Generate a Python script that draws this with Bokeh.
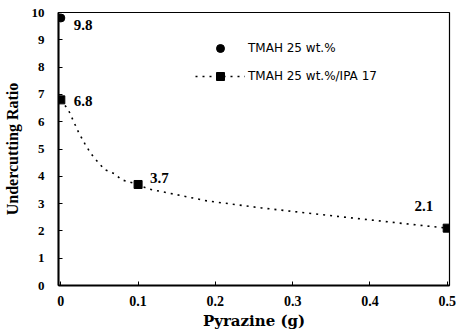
from bokeh.plotting import figure
from bokeh.models import Range1d, Legend, LegendItem, FixedTicker
from bokeh.core.properties import value
from bokeh.embed import file_html
from bokeh.resources import INLINE

# data
tmah_x = [0.0]
tmah_y = [9.8]
tmah_labels = ["9.8"]
ipa_x = [0.0, 0.1, 0.5]
ipa_y = [6.8, 3.7, 2.1]
ipa_labels = ["6.8", "3.7", "2.1"]
curve_x = [0.0, 0.010, 0.017, 0.023, 0.031, 0.038, 0.044, 0.057, 0.069, 0.079, 0.1,
           0.113, 0.189, 0.26, 0.365, 0.45, 0.5]
curve_y = [6.8, 6.42, 5.98, 5.61, 5.2, 4.87, 4.65, 4.24, 4.1, 3.87, 3.7,
           3.54, 3.1, 2.84, 2.51, 2.25, 2.1]
x_ticks = [0, 0.1, 0.2, 0.3, 0.4, 0.5]
x_tick_labels = {0: "0", 0.1: "0.1", 0.2: "0.2", 0.3: "0.3", 0.4: "0.4", 0.5: "0.5"}
y_ticks = list(range(0, 11))

SERIF = "Liberation Serif"

p = figure(width=456, height=332, output_backend="svg", toolbar_location=None,
           x_range=Range1d(-0.003, 0.503), y_range=Range1d(0, 10),
           min_border_left=52, min_border_right=7, min_border_top=12, min_border_bottom=46)
p.grid.visible = False
p.outline_line_color = "black"
p.outline_line_width = 1.2
p.background_fill_color = "white"
p.border_fill_color = "white"

for ax in (p.xaxis, p.yaxis):
    ax.axis_line_width = 2
    ax.axis_line_color = "black"
    ax.major_tick_in = 4
    ax.major_tick_out = 0
    ax.minor_tick_in = 0
    ax.minor_tick_out = 0
    ax.major_tick_line_color = "black"
    ax.major_label_text_font = SERIF
    ax.major_label_text_font_style = "bold"
    ax.major_label_text_color = "black"
    ax.axis_label_text_font = SERIF
    ax.axis_label_text_font_style = "bold"
    ax.axis_label_text_color = "black"

p.xaxis.ticker = FixedTicker(ticks=x_ticks)
p.xaxis.major_label_overrides = x_tick_labels
p.xaxis.major_label_text_font_size = "14px"
p.xaxis.major_label_standoff = 10
p.xaxis.axis_label = "Pyrazine (g)"
p.xaxis.axis_label_text_font = "DejaVu Serif"
p.xaxis.axis_label_text_font_size = "15px"
p.xaxis.axis_label_standoff = 3

p.yaxis.ticker = FixedTicker(ticks=y_ticks)
p.yaxis.major_label_text_font_size = "13px"
p.yaxis.major_label_standoff = 14
p.yaxis.axis_label = "Undercutting Ratio"
p.yaxis.axis_label_text_font_size = "16px"
p.yaxis.axis_label_standoff = 8

line_r = p.line(curve_x, curve_y, line_color="black", line_width=1.6, line_dash="2 5")
sq_r = p.scatter(ipa_x, ipa_y, marker="square", size=8, color="black")
circ_r = p.scatter(tmah_x, tmah_y, marker="circle", size=8, color="black")

lbl = dict(text_font=value(SERIF), text_font_style="bold", text_font_size="15px",
           text_baseline="middle", text_color="black")
p.text(x=[ipa_x[0]], y=[ipa_y[0]], text=[ipa_labels[0]], x_offset=13, y_offset=1,
       text_align="left", **lbl)
p.text(x=[ipa_x[1]], y=[ipa_y[1]], text=[ipa_labels[1]], x_offset=12, y_offset=-6,
       text_align="left", **lbl)
p.text(x=[ipa_x[2]], y=[ipa_y[2]], text=[ipa_labels[2]], x_offset=-14, y_offset=-22,
       text_align="right", **lbl)
p.text(x=tmah_x, y=tmah_y, text=tmah_labels, x_offset=13, y_offset=7,
       text_align="left", **lbl)

legend = Legend(items=[
    LegendItem(label="TMAH 25 wt.%", renderers=[circ_r]),
    LegendItem(label="TMAH 25 wt.%/IPA 17", renderers=[line_r, sq_r]),
], location=(137, 199))
legend.glyph_width = 50
legend.glyph_height = 20
legend.label_height = 20
legend.spacing = 8
legend.padding = 0
legend.margin = 0
legend.label_standoff = 3
legend.border_line_color = None
legend.background_fill_alpha = 0
legend.label_text_font = "DejaVu Sans"
legend.label_text_font_size = "12px"
legend.label_text_color = "black"
p.add_layout(legend, "center")

open("out.html", "w").write(file_html(p, INLINE))
